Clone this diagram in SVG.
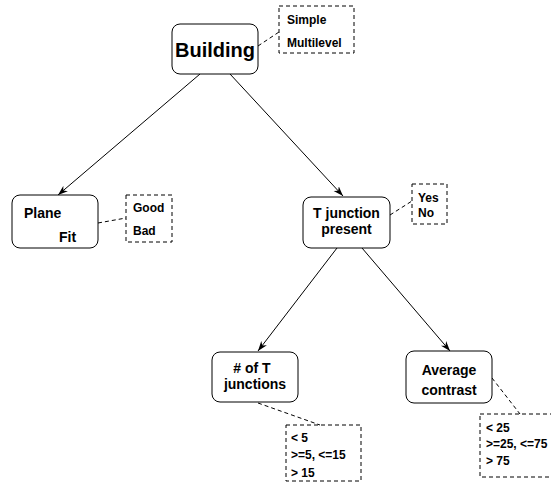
<svg xmlns="http://www.w3.org/2000/svg" width="551" height="482" viewBox="0 0 551 482">
  <style>
    .node { fill: #fff; stroke: #000; stroke-width: 1; }
    .vals { fill: none; stroke: #000; stroke-width: 1; stroke-dasharray: 4 3; }
    .lead { fill: none; stroke: #000; stroke-width: 1; stroke-dasharray: 4 3; }
    .edge { fill: none; stroke: #000; stroke-width: 1; marker-end: url(#arrow); }
    text { font-family: "Liberation Sans", Arial, sans-serif; font-weight: bold; fill: #000; }
    .big { font-size: 20px; }
    .lbl { font-size: 14px; }
    .sm { font-size: 12px; }
  </style>
  <defs>
    <marker id="arrow" viewBox="0 0 10 8" refX="10" refY="4" markerWidth="10" markerHeight="8" markerUnits="userSpaceOnUse" orient="auto">
      <path d="M0,0.5 L10,4 L0,7.5 L3,4 Z" fill="#000"/>
    </marker>
  </defs>

  <rect width="551" height="482" fill="#fff"/>

  <!-- tree edges and value-box leaders -->
  <g id="connectors">
    <line class="edge" x1="200" y1="74" x2="58" y2="195"/>
    <line class="edge" x1="230" y1="74" x2="343" y2="196"/>
    <line class="edge" x1="337" y1="248" x2="258" y2="351"/>
    <line class="edge" x1="362" y1="248" x2="450" y2="351"/>
    <line class="lead" x1="258" y1="46" x2="279" y2="32"/>
    <line class="lead" x1="98" y1="223" x2="126" y2="218"/>
    <line class="lead" x1="390" y1="215" x2="412" y2="201"/>
    <line class="lead" x1="258" y1="403" x2="320" y2="425"/>
    <line class="lead" x1="492" y1="378" x2="520" y2="414"/>
  </g>

  <g id="building">
    <rect class="node" x="172" y="24" width="86" height="50" rx="8"/>
    <text class="big" x="215" y="57" text-anchor="middle">Building</text>
  </g>
  <g id="building-values">
    <rect class="vals" x="279" y="6" width="75" height="47"/>
    <text class="sm" x="287" y="24">Simple</text>
    <text class="sm" x="287" y="47">Multilevel</text>
  </g>

  <g id="plane-fit">
    <rect class="node" x="12" y="195" width="86" height="53" rx="8"/>
    <text class="lbl" x="24" y="218">Plane</text>
    <text class="lbl" x="59" y="242">Fit</text>
  </g>
  <g id="plane-fit-values">
    <rect class="vals" x="126" y="195" width="46" height="47"/>
    <text class="sm" x="133" y="212">Good</text>
    <text class="sm" x="133" y="235">Bad</text>
  </g>

  <g id="t-junction">
    <rect class="node" x="303" y="197" width="87" height="51" rx="8"/>
    <text class="lbl" x="346.5" y="218" text-anchor="middle">T junction</text>
    <text class="lbl" x="346.5" y="234" text-anchor="middle">present</text>
  </g>
  <g id="t-junction-values">
    <rect class="vals" x="412" y="184" width="35" height="40"/>
    <text class="sm" x="418" y="202">Yes</text>
    <text class="sm" x="418" y="217">No</text>
  </g>

  <g id="num-t-junctions">
    <rect class="node" x="212" y="352" width="86" height="50" rx="8"/>
    <text class="lbl" x="252" y="373" text-anchor="middle"># of T</text>
    <text class="lbl" x="255" y="389" text-anchor="middle">junctions</text>
  </g>
  <g id="num-t-junctions-values">
    <rect class="vals" x="286" y="425" width="75" height="56"/>
    <text class="sm" x="291" y="442">&lt; 5</text>
    <text class="sm" x="291" y="459">&gt;=5, &lt;=15</text>
    <text class="sm" x="291" y="477">&gt; 15</text>
  </g>

  <g id="average-contrast">
    <rect class="node" x="406" y="351" width="86" height="52" rx="8"/>
    <text class="lbl" x="449" y="375" text-anchor="middle">Average</text>
    <text class="lbl" x="449" y="395" text-anchor="middle">contrast</text>
  </g>
  <g id="average-contrast-values">
    <rect class="vals" x="480" y="414" width="80" height="63"/>
    <text class="sm" x="486" y="432">&lt; 25</text>
    <text class="sm" x="486" y="448">&gt;=25, &lt;=75</text>
    <text class="sm" x="486" y="465">&gt; 75</text>
  </g>
</svg>
